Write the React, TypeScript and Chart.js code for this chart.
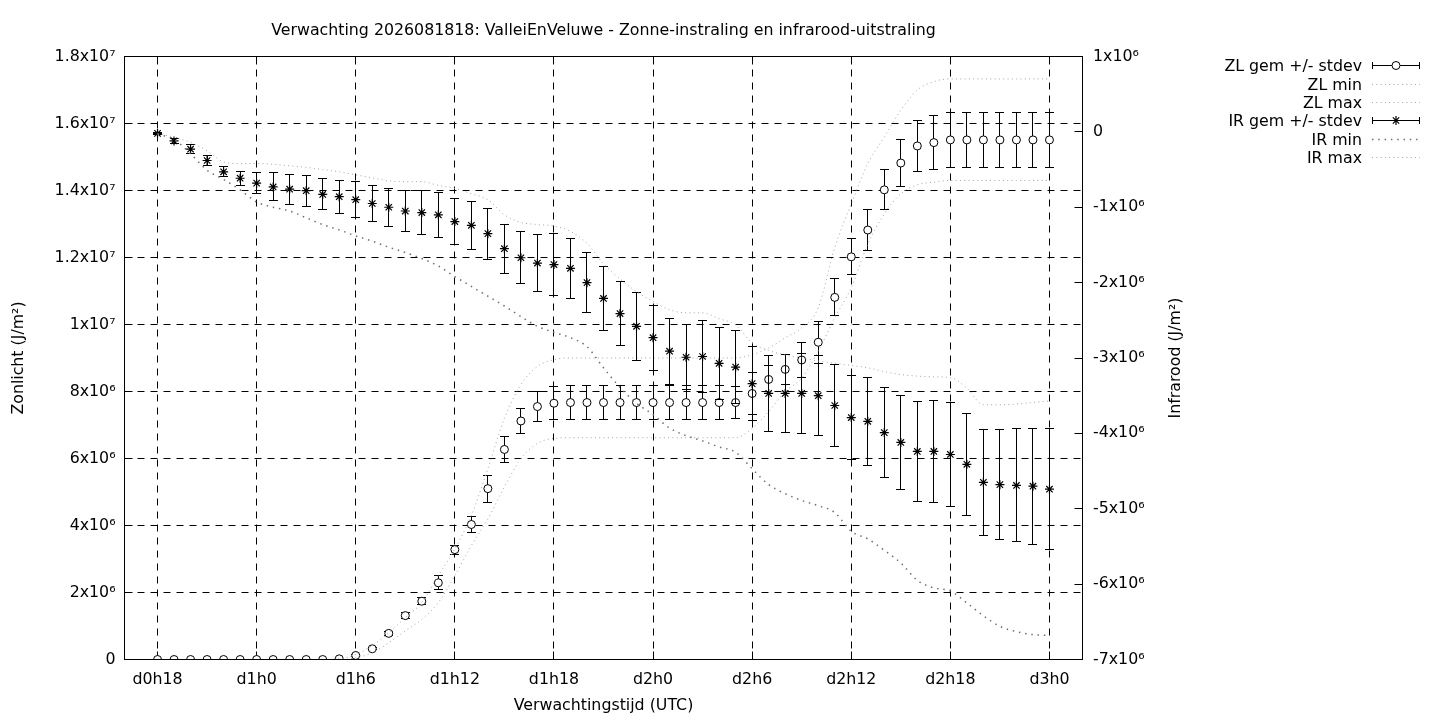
import React, { useEffect, useRef } from 'react';
import { Chart, registerables } from 'chart.js';

Chart.register(...registerables);

const FONT_FAMILY = '"DejaVu Sans", sans-serif';
const FONT_SIZE = 15.8;
const MEGA = 1e6;

const TITLE = 'Verwachting 2026081818: ValleiEnVeluwe - Zonne-instraling en infrarood-uitstraling';
const X_TITLE = 'Verwachtingstijd (UTC)';
const Y_TITLE = 'Zonlicht (J/m²)';
const Y2_TITLE = 'Infrarood (J/m²)';

// forecast hour (hours after d0h0)
const hours = [
  18, 19, 20, 21, 22, 23, 24, 25, 26, 27, 28, 29, 30, 31, 32, 33, 34, 35, 36,
  37, 38, 39, 40, 41, 42, 43, 44, 45, 46, 47, 48, 49, 50, 51, 52, 53, 54, 55,
  56, 57, 58, 59, 60, 61, 62, 63, 64, 65, 66, 67, 68, 69, 70, 71, 72,
];

const xTickValues = [18, 24, 30, 36, 42, 48, 54, 60, 66, 72];
const xTickLabels = ['d0h18', 'd1h0', 'd1h6', 'd1h12', 'd1h18', 'd2h0', 'd2h6', 'd2h12', 'd2h18', 'd3h0'];

const zlTickValues = [0, 2e6, 4e6, 6e6, 8e6, 1e7, 1.2e7, 1.4e7, 1.6e7, 1.8e7];
const zlTickLabels = ['0', '2x10⁶', '4x10⁶', '6x10⁶', '8x10⁶', '1x10⁷', '1.2x10⁷', '1.4x10⁷', '1.6x10⁷', '1.8x10⁷'];

const irTickValues = [-7e6, -6e6, -5e6, -4e6, -3e6, -2e6, -1e6, 0, 1e6];
const irTickLabels = ['-7x10⁶', '-6x10⁶', '-5x10⁶', '-4x10⁶', '-3x10⁶', '-2x10⁶', '-1x10⁶', '0', '1x10⁶'];

// values in MJ/m2 (x 1e6 J/m2)
const zlMean = [
  0, 0, 0, 0, 0, 0, 0, 0, 0, 0, 0, 0.02,
  0.12, 0.32, 0.78, 1.31, 1.74, 2.29, 3.28, 4.03, 5.10, 6.27, 7.12, 7.55, 7.65,
  7.67, 7.67, 7.67, 7.67, 7.67, 7.67, 7.67, 7.67, 7.67, 7.67, 7.67,
  7.94, 8.36, 8.66, 8.94, 9.47, 10.81, 12.02, 12.82, 14.02, 14.82, 15.33, 15.43,
  15.51, 15.51, 15.51, 15.51, 15.51, 15.51, 15.51,
];
const zlSd = [
  0, 0, 0, 0, 0, 0, 0, 0, 0, 0, 0, 0,
  0.02, 0.03, 0.05, 0.08, 0.10, 0.21, 0.135, 0.24, 0.40, 0.40, 0.36, 0.45, 0.50,
  0.50, 0.50, 0.50, 0.50, 0.50, 0.50, 0.50, 0.50, 0.50, 0.50, 0.48,
  0.62, 0.43, 0.45, 0.53, 0.63, 0.55, 0.54, 0.60, 0.60, 0.69, 0.76, 0.80,
  0.81, 0.81, 0.81, 0.81, 0.81, 0.81, 0.81,
];
const zlMin = [
  0, 0, 0, 0, 0, 0, 0, 0, 0, 0, 0, 0,
  0.05, 0.20, 0.50, 0.85, 1.20, 1.70, 2.50, 3.40, 4.20, 5.15, 6.00, 6.45, 6.60,
  6.62, 6.62, 6.62, 6.62, 6.62, 6.62, 6.62, 6.62, 6.62, 6.62, 6.62,
  6.90, 7.40, 8.00, 8.40, 9.20, 10.20, 11.10, 12.40, 13.30, 13.90, 14.17, 14.25,
  14.30, 14.30, 14.30, 14.30, 14.30, 14.30, 14.30,
];
const zlMax = [
  0, 0, 0, 0, 0, 0, 0, 0, 0, 0, 0, 0.02,
  0.15, 0.42, 0.80, 1.25, 1.70, 2.50, 3.30, 4.30, 5.70, 7.20, 8.20, 8.75, 8.95,
  9.00, 9.00, 9.00, 9.00, 9.00, 9.00, 9.00, 9.00, 9.00, 9.00, 9.00,
  9.10, 9.30, 9.60, 9.90, 10.50, 12.30, 13.60, 14.80, 15.60, 16.40, 17.00, 17.25,
  17.33, 17.33, 17.33, 17.33, 17.33, 17.33, 17.33,
];

const irMean = [
  -0.02, -0.12, -0.23, -0.38, -0.53, -0.615, -0.68, -0.73, -0.76, -0.78,
  -0.83, -0.86, -0.90, -0.95, -1.00, -1.05, -1.07, -1.10, -1.19, -1.24,
  -1.35, -1.55, -1.67, -1.74, -1.76, -1.81, -2.00, -2.21, -2.41, -2.58,
  -2.73, -2.91, -2.99, -2.98, -3.07, -3.12, -3.34, -3.47, -3.47, -3.47,
  -3.50, -3.63, -3.79, -3.84, -3.99, -4.12, -4.24, -4.24, -4.28, -4.41,
  -4.65, -4.68, -4.69, -4.70, -4.74,
];
const irSd = [
  0.01, 0.03, 0.06, 0.067, 0.066, 0.093, 0.14, 0.186, 0.20, 0.206,
  0.206, 0.22, 0.235, 0.24, 0.25, 0.266, 0.286, 0.30, 0.30, 0.32,
  0.34, 0.325, 0.345, 0.38, 0.41, 0.40, 0.40, 0.42, 0.43, 0.45,
  0.43, 0.44, 0.43, 0.48, 0.48, 0.48, 0.49, 0.50, 0.52, 0.53,
  0.53, 0.54, 0.56, 0.585, 0.60, 0.62, 0.66, 0.68, 0.69, 0.675,
  0.70, 0.73, 0.75, 0.77, 0.80,
];
const irMin = [
  -0.03, -0.10, -0.29, -0.51, -0.63, -0.77, -0.93, -1.00, -1.05, -1.14,
  -1.23, -1.30, -1.38, -1.45, -1.53, -1.60, -1.68, -1.78, -1.92, -2.05,
  -2.18, -2.31, -2.45, -2.58, -2.66, -2.73, -2.85, -3.13, -3.39, -3.60,
  -3.75, -3.93, -4.03, -4.10, -4.18, -4.25, -4.47, -4.68, -4.80, -4.89,
  -4.96, -5.05, -5.30, -5.40, -5.55, -5.72, -5.95, -6.05, -6.09, -6.25,
  -6.42, -6.56, -6.63, -6.67, -6.68,
];
const irMax = [
  -0.02, -0.07, -0.14, -0.25, -0.40, -0.42, -0.42, -0.43, -0.45, -0.47,
  -0.50, -0.53, -0.57, -0.61, -0.65, -0.66, -0.66, -0.71, -0.75, -0.82,
  -0.90, -1.10, -1.20, -1.23, -1.25, -1.32, -1.48, -1.75, -1.95, -2.12,
  -2.25, -2.36, -2.40, -2.40, -2.48, -2.56, -2.80, -2.90, -2.96, -3.00,
  -3.04, -3.07, -3.10, -3.13, -3.18, -3.22, -3.24, -3.25, -3.26, -3.40,
  -3.62, -3.62, -3.61, -3.59, -3.57,
];

const toPoints = (vals: number[]) => hours.map((h, i) => ({ x: h, y: vals[i] * MEGA }));

const FONT = `${FONT_SIZE}px ${FONT_FAMILY}`;
const CAP = 4.5;
const TICK_LEN = 8;
const STAR_R = 4.5;

const snap = (v: number) => Math.round(v - 0.5) + 0.5;

function drawMarker(ctx: CanvasRenderingContext2D, style: string, x: number, y: number) {
  ctx.save();
  ctx.strokeStyle = '#000';
  ctx.lineWidth = 1;
  if (style === 'circle') {
    ctx.fillStyle = '#fff';
    ctx.beginPath();
    ctx.arc(x, y, 4, 0, Math.PI * 2);
    ctx.fill();
    ctx.stroke();
  } else {
    const r = STAR_R;
    const d = r * Math.SQRT1_2;
    ctx.lineWidth = 1.2;
    ctx.beginPath();
    ctx.moveTo(x - r, y); ctx.lineTo(x + r, y);
    ctx.moveTo(x, y - r); ctx.lineTo(x, y + r);
    ctx.moveTo(x - d, y - d); ctx.lineTo(x + d, y + d);
    ctx.moveTo(x - d, y + d); ctx.lineTo(x + d, y - d);
    ctx.stroke();
  }
  ctx.restore();
}

const framePlugin = {
  id: 'gpFrame',
  beforeDatasetsDraw(chart: any) {
    const { ctx, chartArea, scales } = chart;
    const { left, right, top, bottom } = chartArea;
    ctx.save();
    ctx.strokeStyle = '#000';
    ctx.lineWidth = 1;
    ctx.setLineDash([7, 6]);
    ctx.beginPath();
    xTickValues.forEach((v) => {
      const x = snap(scales.x.getPixelForValue(v));
      ctx.moveTo(x, top);
      ctx.lineTo(x, bottom);
    });
    zlTickValues.forEach((v) => {
      const y = snap(scales.y.getPixelForValue(v));
      if (y > top + 1 && y < bottom - 1) {
        ctx.moveTo(left, y);
        ctx.lineTo(right, y);
      }
    });
    ctx.stroke();
    ctx.setLineDash([]);
    ctx.beginPath();
    xTickValues.forEach((v) => {
      const x = snap(scales.x.getPixelForValue(v));
      ctx.moveTo(x, bottom);
      ctx.lineTo(x, bottom - TICK_LEN);
      ctx.moveTo(x, top);
      ctx.lineTo(x, top + TICK_LEN);
    });
    zlTickValues.forEach((v) => {
      const y = snap(scales.y.getPixelForValue(v));
      ctx.moveTo(left, y);
      ctx.lineTo(left + TICK_LEN, y);
    });
    irTickValues.forEach((v) => {
      const y = snap(scales.y2.getPixelForValue(v));
      ctx.moveTo(right, y);
      ctx.lineTo(right - TICK_LEN, y);
    });
    ctx.stroke();
    ctx.restore();
  },
  afterDatasetsDraw(chart: any) {
    const { ctx, chartArea } = chart;
    const { left, right, top, bottom } = chartArea;
    ctx.save();
    ctx.strokeStyle = '#000';
    ctx.lineWidth = 1;
    ctx.strokeRect(left, top, right - left, bottom - top);
    ctx.restore();
  },
};

const errorBarPlugin = {
  id: 'gpErrorBars',
  beforeDatasetDraw(chart: any, args: any) {
    const ds = chart.data.datasets[args.index];
    if (!ds.errors) return;
    const yScale = chart.scales[ds.yAxisID];
    const ctx = chart.ctx;
    ctx.save();
    ctx.strokeStyle = '#000';
    ctx.lineWidth = 1;
    ctx.beginPath();
    args.meta.data.forEach((pt: any, i: number) => {
      const sd = ds.errors[i];
      if (!sd) return;
      const mean = ds.data[i].y;
      const yTop = yScale.getPixelForValue(mean + sd * MEGA);
      const yBot = yScale.getPixelForValue(mean - sd * MEGA);
      const x = snap(pt.x);
      ctx.moveTo(x, yTop);
      ctx.lineTo(x, yBot);
      ctx.moveTo(x - CAP, snap(yTop));
      ctx.lineTo(x + CAP, snap(yTop));
      ctx.moveTo(x - CAP, snap(yBot));
      ctx.lineTo(x + CAP, snap(yBot));
    });
    ctx.stroke();
    ctx.restore();
  },
};

const textPlugin = {
  id: 'gpTexts',
  afterDraw(chart: any) {
    const { ctx, chartArea } = chart;
    const { left, right, top, bottom } = chartArea;
    ctx.save();
    ctx.font = FONT;
    ctx.fillStyle = '#000';
    // main title
    ctx.textAlign = 'center';
    ctx.textBaseline = 'alphabetic';
    ctx.fillText(TITLE, (left + right) / 2, 35);
    // right axis title (reads bottom to top)
    ctx.save();
    ctx.translate(1179.5, (top + bottom) / 2);
    ctx.rotate(-Math.PI / 2);
    ctx.fillText(Y2_TITLE, 0, 0);
    ctx.restore();
    // legend
    const textX = 1362;
    const x1 = 1372;
    const x2 = 1420;
    chart.data.datasets.forEach((ds: any, k: number) => {
      const y = 65.8 + k * 18.35;
      ctx.textAlign = 'right';
      ctx.fillText(ds.label, textX, y + 5.4);
      if (ds.errors) {
        const ys = snap(y);
        ctx.save();
        ctx.strokeStyle = '#000';
        ctx.lineWidth = 1;
        ctx.beginPath();
        ctx.moveTo(x1, ys); ctx.lineTo(x2, ys);
        ctx.moveTo(x1 + 0.5, ys - 3.5); ctx.lineTo(x1 + 0.5, ys + 3.5);
        ctx.moveTo(x2 - 0.5, ys - 3.5); ctx.lineTo(x2 - 0.5, ys + 3.5);
        ctx.stroke();
        ctx.restore();
        drawMarker(ctx, ds.pointStyle, (x1 + x2) / 2, ys);
      } else {
        ctx.save();
        ctx.strokeStyle = ds.borderColor;
        ctx.lineWidth = ds.borderWidth;
        ctx.setLineDash(ds.borderDash);
        ctx.beginPath();
        ctx.moveTo(x1, snap(y));
        ctx.lineTo(x2, snap(y));
        ctx.stroke();
        ctx.restore();
      }
    });
    ctx.restore();
  },
};

const fixedTicks = (values: number[]) => (scale: any) => {
  scale.ticks = values.map((v) => ({ value: v }));
};
const labelFor = (values: number[], labels: string[]) => (value: any) => {
  const idx = values.findIndex((v) => Math.abs(v - Number(value)) < 1e-6 * Math.max(1, Math.abs(v)));
  return idx >= 0 ? labels[idx] : '';
};

export default function App() {
  const ref = useRef<HTMLCanvasElement | null>(null);

  useEffect(() => {
    document.body.style.margin = '0';
    const canvas = ref.current;
    if (!canvas) return;

    const fine = { borderColor: '#a4a4a4', borderWidth: 1, borderDash: [1, 3.3] };
    const coarse = { borderColor: '#707070', borderWidth: 1.5, borderDash: [1.5, 4.8] };
    const lineCommon = { pointRadius: 0, showLine: true, fill: false, cubicInterpolationMode: 'monotone' as const };

    const chart = new Chart(canvas, {
      type: 'line',
      data: {
        datasets: [
          {
            label: 'ZL gem +/- stdev',
            data: toPoints(zlMean),
            errors: zlSd,
            yAxisID: 'y',
            showLine: false,
            pointStyle: 'circle',
            pointRadius: 4,
            pointBorderWidth: 1,
            pointBorderColor: '#000',
            pointBackgroundColor: '#fff',
            borderColor: '#000',
            order: 6,
          } as any,
          { label: 'ZL min', data: toPoints(zlMin), yAxisID: 'y', ...fine, ...lineCommon, order: 5 } as any,
          { label: 'ZL max', data: toPoints(zlMax), yAxisID: 'y', ...fine, ...lineCommon, order: 4 } as any,
          {
            label: 'IR gem +/- stdev',
            data: toPoints(irMean),
            errors: irSd,
            yAxisID: 'y2',
            showLine: false,
            pointStyle: 'star',
            pointRadius: STAR_R,
            pointBorderWidth: 1.2,
            pointBorderColor: '#000',
            pointBackgroundColor: '#000',
            borderColor: '#000',
            order: 3,
          } as any,
          { label: 'IR min', data: toPoints(irMin), yAxisID: 'y2', ...coarse, ...lineCommon, order: 2 } as any,
          { label: 'IR max', data: toPoints(irMax), yAxisID: 'y2', ...fine, ...lineCommon, order: 1 } as any,
        ],
      },
      options: {
        animation: false,
        responsive: false,
        events: [],
        layout: { padding: { left: 0, right: 253.5, top: 56.5, bottom: 0 } },
        font: { family: FONT_FAMILY, size: FONT_SIZE },
        plugins: {
          legend: { display: false },
          title: { display: false },
          tooltip: { enabled: false },
        },
        scales: {
          x: {
            type: 'linear',
            position: 'bottom',
            min: 16,
            max: 74,
            grid: { display: false, drawTicks: false },
            border: { display: false },
            afterBuildTicks: fixedTicks(xTickValues),
            afterFit: (s: any) => { s.height = 60.5; },
            ticks: {
              color: '#000',
              font: { family: FONT_FAMILY, size: FONT_SIZE },
              padding: 10.8,
              maxRotation: 0,
              autoSkip: false,
              callback: labelFor(xTickValues, xTickLabels),
            },
            title: {
              display: true,
              text: X_TITLE,
              color: '#000',
              font: { family: FONT_FAMILY, size: FONT_SIZE },
              padding: { top: 0, bottom: 4.3 },
            },
          },
          y: {
            type: 'linear',
            position: 'left',
            min: 0,
            max: 1.8e7,
            grid: { display: false, drawTicks: false },
            border: { display: false },
            afterBuildTicks: fixedTicks(zlTickValues),
            afterFit: (s: any) => { s.width = 124.5; },
            ticks: {
              color: '#000',
              font: { family: FONT_FAMILY, size: FONT_SIZE },
              padding: 9,
              autoSkip: false,
              callback: labelFor(zlTickValues, zlTickLabels),
            },
            title: {
              display: true,
              text: Y_TITLE,
              color: '#000',
              font: { family: FONT_FAMILY, size: FONT_SIZE },
              padding: { top: 9.3, bottom: 0 },
            },
          },
          y2: {
            type: 'linear',
            position: 'right',
            min: -7e6,
            max: 1e6,
            grid: { display: false, drawTicks: false },
            border: { display: false },
            afterBuildTicks: fixedTicks(irTickValues),
            afterFit: (s: any) => { s.width = 104; },
            ticks: {
              color: '#000',
              font: { family: FONT_FAMILY, size: FONT_SIZE },
              padding: 10.5,
              autoSkip: false,
              callback: labelFor(irTickValues, irTickLabels),
            },
          },
        },
      } as any,
      plugins: [framePlugin, errorBarPlugin, textPlugin],
    });

    return () => chart.destroy();
  }, []);

  return (
    <div style={{ position: 'fixed', left: 0, top: 0, width: 1440, height: 720, background: '#fff' }}>
      <canvas ref={ref} width={1440} height={720} style={{ width: 1440, height: 720, display: 'block' }} />
    </div>
  );
}
